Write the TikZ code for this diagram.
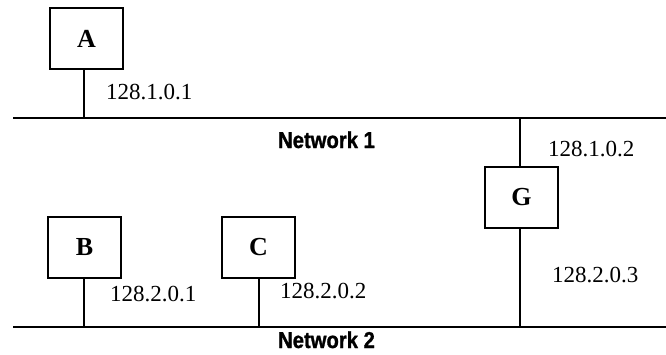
\documentclass[tikz,border=0pt]{standalone}
\usepackage{fontspec}
\setmainfont{Liberation Serif}
\newfontfamily\netfont[FakeStretch=0.88, BoldFeatures={FakeBold=1.2}]{Liberation Sans}
\begin{document}
\begin{tikzpicture}[x=1pt,y=-1pt,
  hostbox/.style={draw, line width=1.8pt, minimum width=73pt, minimum height=61pt, inner sep=0pt, font=\fontsize{26}{26}\selectfont\bfseries},
  addr/.style={anchor=base west, inner sep=0pt, font=\fontsize{23}{23}\selectfont},
  netlabel/.style={anchor=base, inner sep=0pt, font=\netfont\fontsize{23}{23}\selectfont\bfseries},
  wire/.style={line width=1.8pt}]
\useasboundingbox (0,0) rectangle (666,354);
% networks
\coordinate (net1w) at (13,118);
\coordinate (net1e) at (666,118);
\coordinate (net2w) at (13,327);
\coordinate (net2e) at (666,327);
\draw[wire] (net1w) -- (net1e);
\draw[wire] (net2w) -- (net2e);
% hosts
\node[hostbox] (A) at (86.5,38.5) {A};
\node[hostbox] (B) at (84.5,247.5) {B};
\node[hostbox] (C) at (258.5,247.5) {C};
\node[hostbox] (G) at (521.5,197.5) {G};
% taps
\coordinate (n1A) at (84,118);
\coordinate (n1G) at (520,118);
\coordinate (n2B) at (84,327);
\coordinate (n2C) at (259,327);
\coordinate (n2G) at (520,327);
\draw[wire] (A.south -| n1A) -- (n1A);
\draw[wire] (B.south -| n2B) -- (n2B);
\draw[wire] (C.south -| n2C) -- (n2C);
\draw[wire] (n1G) -- (G.north -| n1G);
\draw[wire] (G.south -| n2G) -- (n2G);
% addresses
\node[addr] (lA) at (106,99) {128.1.0.1};
\node[addr] (lG1) at (548,156) {128.1.0.2};
\node[addr] (lB) at (110,301) {128.2.0.1};
\node[addr] (lC) at (280,298) {128.2.0.2};
\node[addr] (lG2) at (552,282) {128.2.0.3};
% network names
\node[netlabel] (N1) at (326.5,148) {Network 1};
\node[netlabel] (N2) at (326.5,348) {Network 2};
\end{tikzpicture}
\end{document}
